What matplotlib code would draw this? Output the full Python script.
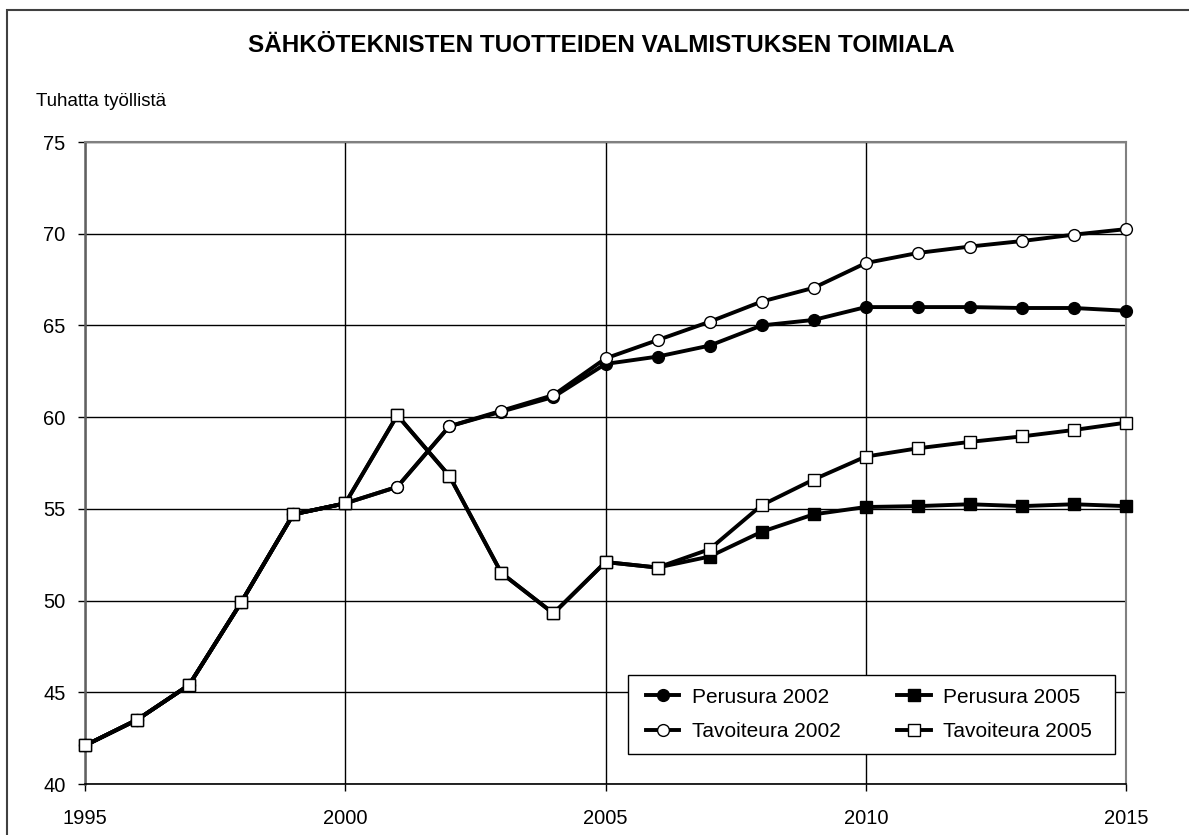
import numpy as np
import matplotlib
matplotlib.use("Agg")
import matplotlib.pyplot as plt
from matplotlib.patches import Rectangle

plt.rcParams['font.family'] = ['Liberation Sans', 'DejaVu Sans']

# Data (thousand employed)
years = list(range(1995, 2016))
perusura_2002 = [42.1, 43.5, 45.4, 49.9, 54.7, 55.3, 56.2, 59.5, 60.3, 61.1, 62.9,
                 63.3, 63.9, 65.0, 65.3, 66.0, 66.0, 66.0, 65.95, 65.95, 65.8]
perusura_2005 = [42.1, 43.5, 45.4, 49.9, 54.7, 55.3, 60.1, 56.8, 51.5, 49.3, 52.1,
                 51.8, 52.4, 53.75, 54.7, 55.1, 55.15, 55.25, 55.15, 55.25, 55.15]
tavoiteura_2002 = [42.1, 43.5, 45.4, 49.9, 54.7, 55.3, 56.2, 59.5, 60.35, 61.2, 63.2,
                   64.2, 65.2, 66.3, 67.05, 68.4, 68.95, 69.3, 69.6, 69.95, 70.25]
tavoiteura_2005 = [42.1, 43.5, 45.4, 49.9, 54.7, 55.3, 60.1, 56.8, 51.5, 49.3, 52.1,
                   51.8, 52.8, 55.2, 56.6, 57.85, 58.3, 58.65, 58.95, 59.3, 59.7]

title = "SÄHKÖTEKNISTEN TUOTTEIDEN VALMISTUKSEN TOIMIALA"
ylabel = "Tuhatta työllistä"

W, H = 1189, 835
fig = plt.figure(figsize=(W/100, H/100), dpi=100)
ax = fig.add_axes([85/W, (H-784)/H, (1126-85)/W, (784-142)/H])

# outer chart border
fig.patches.append(Rectangle((7/W, -0.05), 1.05, 1.05 - 10/H,
                             transform=fig.transFigure, fill=False,
                             edgecolor='#404040', linewidth=1.5, zorder=-5))

lw = 2.8
ms = 8.5
style = dict(color='black', lw=lw, ms=ms, mec='black', mew=1, clip_on=False)
h1, = ax.plot(years, perusura_2002, '-o', mfc='black', label='Perusura 2002',
              zorder=3, **style)
h2, = ax.plot(years, perusura_2005, '-s', mfc='black', label='Perusura 2005',
              zorder=3, **style)
h3, = ax.plot(years, tavoiteura_2002, '-o', mfc='white', label='Tavoiteura 2002',
              zorder=4, **style)
h4, = ax.plot(years, tavoiteura_2005, '-s', mfc='white', label='Tavoiteura 2005',
              zorder=4, **style)

ax.set_xlim(1995, 2015)
ax.set_ylim(40, 75)
ax.set_xticks(range(1995, 2016, 5))
ax.set_yticks(range(40, 76, 5))
ax.grid(True, color='black', linewidth=1.0)
ax.set_axisbelow(True)
ax.tick_params(axis='both', labelsize=14.5, length=5, width=1, direction='out')
ax.tick_params(axis='y', pad=9)
ax.tick_params(axis='x', pad=13)

for s in ['top', 'right']:
    ax.spines[s].set_color('#808080')
    ax.spines[s].set_linewidth(1.5)
ax.spines['left'].set_color('#606060')
ax.spines['left'].set_linewidth(1.8)
ax.spines['bottom'].set_color('black')
ax.spines['bottom'].set_linewidth(1.2)

# legend box drawn by hand, entries placed inside it
ax_w, ax_h = 1041, 642
bx0, bx1 = (628-85)/ax_w, (1115-85)/ax_w
by0, by1 = (784-754)/ax_h, (784-675)/ax_h
ax.add_patch(Rectangle((bx0, by0), bx1-bx0, by1-by0, transform=ax.transAxes,
                       facecolor='white', edgecolor='black', linewidth=1.0,
                       zorder=9, clip_on=False))
ix0, ix1 = (646-85)/ax_w, (1092-85)/ax_w
leg = ax.legend([h1, h3, h2, h4],
                [h.get_label() for h in (h1, h3, h2, h4)],
                loc='center', bbox_to_anchor=(ix0, by0, ix1-ix0, by1-by0),
                mode='expand', ncol=2, fontsize=15, frameon=False,
                handlelength=1.6, handletextpad=0.6, borderaxespad=0,
                borderpad=0, labelspacing=0.75, columnspacing=2.5)
leg.set_zorder(10)

fig.text(601/W, 1 - 46/H, title, ha='center', va='center',
         fontsize=17.5, fontweight='bold')
fig.text(36/W, 1 - 106/H, ylabel, ha='left', va='baseline', fontsize=13.5)

fig.savefig('out.png', dpi=100)
